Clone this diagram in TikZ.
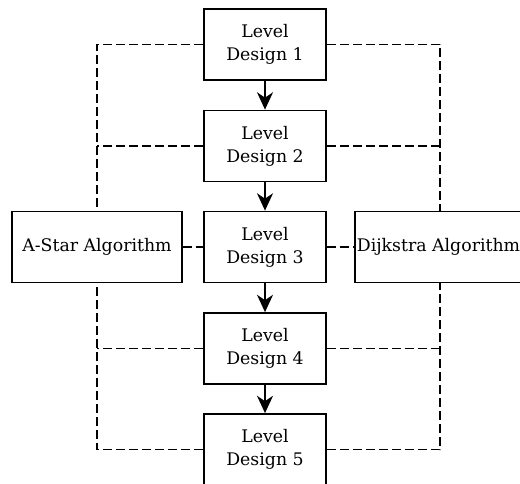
\documentclass[tikz,border=0pt]{standalone}
\usepackage{fontspec}
\setmainfont{DejaVu Serif}
\usetikzlibrary{arrows.meta}
\begin{document}
\begin{tikzpicture}[x=0.75pt,y=-0.75pt,
  lvbox/.style={draw,line width=1.3pt,minimum width=91.5pt,minimum height=53.25pt,align=center,inner sep=0pt,font=\fontsize{13}{17.25}\selectfont},
  algbox/.style={draw,line width=1.3pt,minimum width=127.5pt,minimum height=53.25pt,inner sep=0pt,font=\fontsize{13}{17.25}\selectfont},
  flow/.style={line width=1.3pt,-{Stealth[length=13pt,width=12pt,inset=4pt]}},
  link/.style={line width=1pt,dash pattern=on 6.75pt off 3pt}]
\useasboundingbox (0,0) rectangle (520,484);
\node[lvbox] (b1) at (265,44.5) {Level\\Design 1};
\node[lvbox] (b2) at (265,146) {Level\\Design 2};
\node[lvbox] (b3) at (265,247) {Level\\Design 3};
\node[lvbox] (b4) at (265,348.5) {Level\\Design 4};
\node[lvbox] (b5) at (265,449.5) {Level\\Design 5};
\node[algbox] (as) at (97,247) {A-Star Algorithm};
\node[algbox,anchor=west] (dj) at (354,247) {\hspace*{-2pt}Dijkstra Algorithm};
\draw[flow] (b1) -- (b2);
\draw[flow] (b2) -- (b3);
\draw[flow] (b3) -- (b4);
\draw[flow] (b4) -- (b5);
\draw[link] (b1.west) -| (as.north);
\draw[link] (b2.west) -- (as.north |- b2.west);
\draw[link] (b5.west) -| (as.south);
\draw[link] (b4.west) -- (as.south |- b4.west);
\draw[link] (as.east) -- (b3.west);
\draw[link] (b1.east) -| (dj.north);
\draw[link] (b2.east) -- (dj.north |- b2.east);
\draw[link] (b5.east) -| (dj.south);
\draw[link] (b4.east) -- (dj.south |- b4.east);
\draw[link] (b3.east) -- (dj.west);
\end{tikzpicture}
\end{document}
